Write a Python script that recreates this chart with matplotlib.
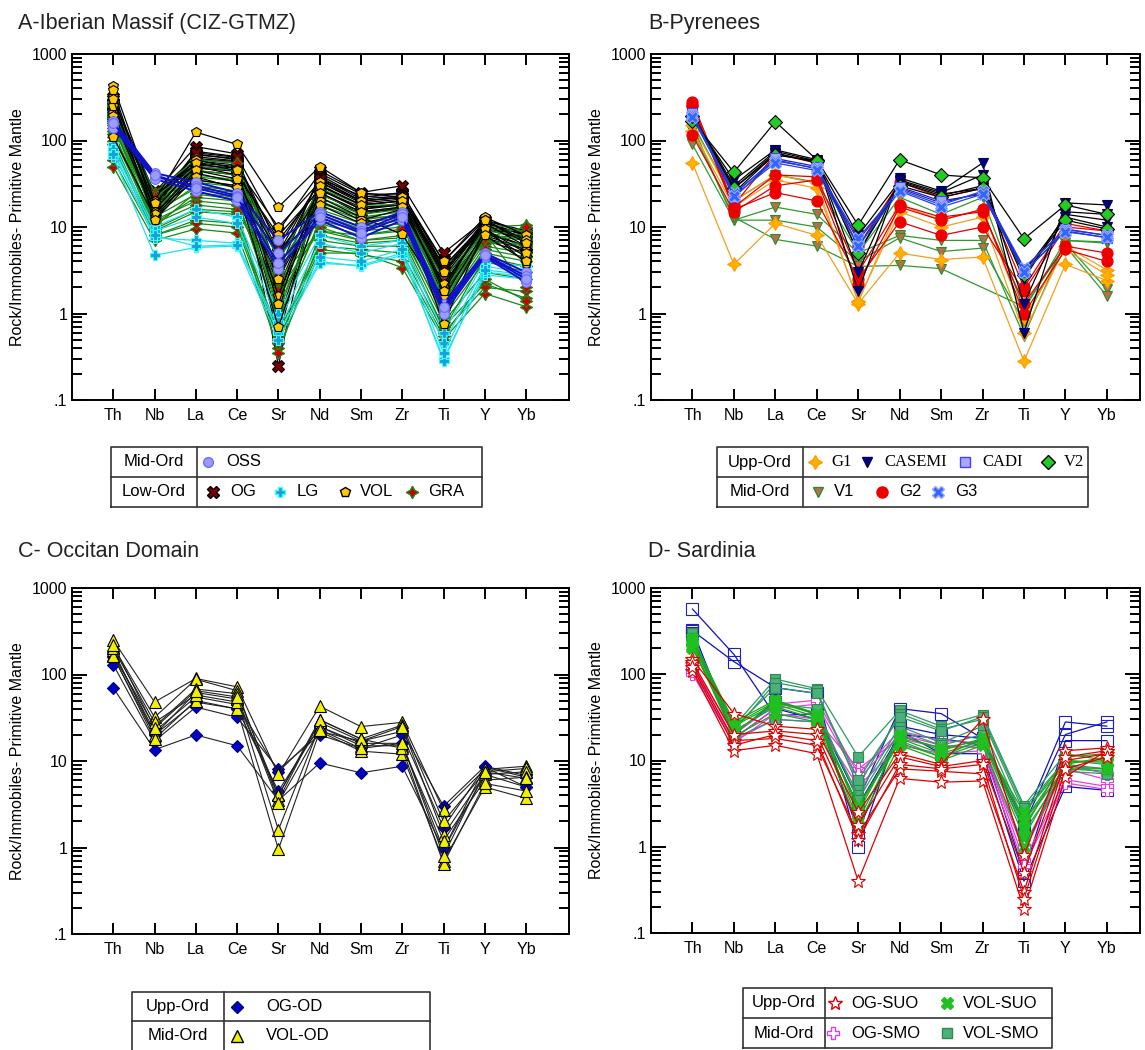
import numpy as np
import matplotlib.pyplot as plt
from matplotlib.ticker import LogLocator, NullFormatter

plt.rcParams.update({
    "font.family": ["Liberation Sans", "DejaVu Sans"],
    "font.size": 11,
    "axes.linewidth": 1.4,
})

ELEMENTS = ["Th", "Nb", "La", "Ce", "Sr", "Nd", "Sm", "Zr", "Ti", "Y", "Yb"]
nan = np.nan

# ── Panel A: Iberian Massif ──────────────────────────────────
A_OG = [
    [300, 25, 85, 70, 0.25, 45, 25, 30, 5.0, 12, 9.0],
    [250, 20, 70, 60, 3.0, 40, 22, 25, 3.5, 11, 8.0],
    [200, 22, 60, 55, 5.0, 35, 20, 22, 3.0, 10, 7.0],
    [280, 18, 75, 65, 9.0, 42, 24, 24, 4.0, 12, 8.5],
    [220, 15, 55, 50, 1.5, 30, 18, 20, 2.5, 9.0, 6.0],
    [180, 17, 50, 45, 7.0, 28, 16, 19, 2.0, 8.0, 5.5],
    [260, 24, 65, 58, 0.5, 38, 21, 23, 3.2, 10.5, 7.5],
    [230, 12, 45, 40, 2.0, 25, 14, 17, 1.8, 7.0, 5.0],
    [240, 21, 68, 62, 4.0, 36, 23, 21, 2.8, 11.5, 8.0],
    [270, 19, 62, 57, 6.0, 33, 19, 21, 3.5, 10, 7.5],
    [210, 23, 58, 52, 2.5, 31, 18, 20, 2.2, 9.5, 7.0],
    [320, 16, 72, 64, 1.2, 36, 20, 22, 2.6, 11, 8.0],
    [190, 26, 52, 48, 4.5, 27, 17, 18, 1.6, 8.5, 6.0],
    [240, 14, 48, 44, 0.8, 24, 15, 16, 2.0, 7.5, 5.5],
]
A_GRA = [
    [50, 7.0, 9.5, 8.5, 0.4, 5.0, 5.0, 3.4, 0.5, 1.7, 1.2],
    [120, 12, 20, 18, 1.5, 10, 7.0, 8.0, 1.0, 5.0, 4.0],
    [200, 18, 35, 30, 3.0, 18, 12, 14, 1.8, 8.0, 7.0],
    [250, 25, 60, 55, 4.0, 28, 18, 18, 2.5, 10, 10.5],
    [150, 10, 25, 22, 0.8, 12, 9.0, 10, 1.2, 6.0, 5.0],
    [100, 9.0, 15, 14, 0.35, 7.0, 6.0, 6.0, 0.7, 2.2, 1.5],
    [180, 14, 30, 26, 2.0, 15, 10, 12, 1.5, 7.0, 6.0],
    [280, 20, 45, 40, 5.0, 22, 14, 16, 2.0, 9.0, 8.0],
    [90, 8.0, 12, 11, 0.6, 6.0, 5.5, 5.0, 0.6, 2.0, 1.8],
    [220, 16, 40, 35, 1.0, 20, 13, 13, 1.3, 8.5, 2.0],
    [160, 11, 22, 20, 2.5, 9.0, 8.0, 9.0, 0.9, 4.0, 3.0],
    [60, 8.0, 11, 10, 0.5, 5.5, 4.8, 4.0, 0.55, 2.5, 1.4],
    [140, 15, 28, 25, 1.2, 14, 9.5, 11, 1.4, 6.5, 6.5],
    [210, 22, 50, 45, 2.8, 24, 15, 17, 2.2, 9.5, 9.0],
    [170, 13, 24, 21, 0.9, 11, 8.0, 9.5, 1.1, 5.5, 4.5],
    [110, 11, 18, 16, 1.8, 9.0, 7.0, 7.5, 0.8, 3.0, 2.5],
    [260, 19, 38, 34, 3.5, 19, 13, 15, 1.9, 8.0, 7.5],
    [130, 9.5, 16, 15, 0.45, 8.0, 6.5, 7.0, 0.65, 4.5, 3.5],
    [190, 17, 33, 29, 4.5, 16, 11, 13, 1.6, 7.5, 10],
]
A_LG = [
    [90, 10, 16, 13, 1.0, 8.0, 6.0, 7.0, 0.6, 4.0, 3.5],
    [75, 7.5, 7.0, 6.5, 0.6, 4.0, 3.5, 4.7, 0.3, 2.8, 2.5],
    [65, 4.7, 5.8, 6.0, 0.5, 3.8, 3.6, 5.0, 0.28, 3.0, 2.7],
    [80, 9.0, 13, 11, 0.8, 6.5, 5.0, 6.5, 0.45, 3.5, 3.0],
    [70, 8.0, 6.0, 6.2, 0.7, 4.5, 4.0, 5.5, 0.35, 3.2, 2.8],
]
A_VOL = [
    [430, 20, 125, 90, 17, 50, 25, 22, 4.0, 13, 8.0],
    [320, 18, 60, 47, 10, 33, 20, 22, 3.0, 12, 7.0],
    [210, 16, 50, 40, 8.0, 27, 16, 18, 2.0, 11, 6.0],
    [110, 13, 42, 33, 5.0, 22, 13, 8.2, 1.5, 9.0, 4.5],
    [380, 15, 35, 30, 2.5, 20, 12, 16, 2.2, 10, 3.8],
    [250, 19, 55, 45, 1.6, 30, 18, 20, 1.8, 12, 6.5],
    [190, 14, 45, 36, 1.3, 25, 15, 17, 0.75, 9.5, 5.0],
    [300, 12, 38, 28, 0.7, 18, 11, 14, 1.2, 8.0, 4.0],
]
A_OSS = [
    [170, 42, 33, 25, 7.0, 15, 10, 15, 1.3, 5.0, 3.0],
    [150, 38, 30, 23, 5.0, 14, 9.0, 14, 1.1, 4.8, 2.7],
    [140, 36, 26, 20, 3.3, 12, 7.5, 12, 1.0, 4.5, 2.3],
    [160, 40, 28, 22, 3.8, 13, 8.5, 13, 1.2, 4.7, 2.5],
]

# ── Panel B: Pyrenees ────────────────────────────────────────
B_G1 = [
    [55, 3.7, 11, 8.0, 1.3, 5.0, 4.2, 4.5, 0.28, 3.7, 2.4],
    [130, 17, 35, 28, 1.4, 15, 10, 13, 0.6, 6.0, 3.2],
    [150, 20, 40, 32, 1.35, 18, 12, 16, 0.9, 5.5, 2.8],
]
B_CASEMI = [
    [180, 35, 78, 60, 1.8, 37, 26, 55, 0.6, 19, 18],
    [200, 30, 75, 58, 3.0, 35, 25, 40, 1.3, 15, 14],
    [190, 28, 72, 55, 5.0, 33, 23, 30, 2.5, 14, 12],
    [210, 25, 70, 57, 8.0, 34, 24, 28, 3.0, 13, 10],
]
B_CADI = [
    [210, 22, 60, 47, 7.0, 28, 19, 25, 3.3, 9.5, 8.0],
    [190, 24, 62, 50, 6.0, 29, 20, 24, 3.0, 9.0, 7.5],
]
B_V2 = [
    [170, 43, 165, 60, 10.5, 60, 40, 37, 7.3, 18, 14],
    [190, 28, 68, 58, 5.0, 30, 22, 28, 2.8, 12, 9.5],
]
B_V1 = [
    [90, 12, 17, 14, 5.0, 8.0, 7.0, 7.0, 0.55, 7.0, 6.5],
    [150, 12, 12, 10, 4.0, 7.5, 5.2, 5.7, 0.8, 6.5, 1.9],
    [130, 13, 7.2, 6.0, 3.5, 3.6, 3.3, nan, 1.2, 6.0, 1.6],
    [160, 20, 40, 33, 5.0, 22, 14, 22, 1.1, 7.0, 6.7],
]
B_G2 = [
    [280, 18, 70, 55, 6.0, 33, 22, 28, 2.0, 11, 9.0],
    [260, 16, 25, 20, 2.5, 11.5, 8.0, 10, 1.8, 10, 9.0],
    [115, 15, 30, 35, 2.2, 17, 12, 16, 1.0, 5.5, 4.0],
    [250, 17, 40, 38, 3.0, 18, 13, 15, 1.3, 6.0, 5.0],
]
B_G3 = [
    [195, 25, 58, 48, 7.5, 27, 18, 26, 3.4, 9.3, 8.0],
    [185, 23, 55, 45, 6.0, 26, 17, 24, 3.0, 8.8, 7.6],
]

# ── Panel C: Occitan Domain ──────────────────────────────────
C_OGOD = [
    [70, 13.5, 20, 15, 3.5, 9.5, 7.3, 8.7, 0.95, 8.5, 5.0],
    [130, 17, 42, 32, 8.0, 20, 14, 20, 1.7, 8.5, 6.5],
    [175, 22, 55, 45, 7.5, 22, 17, 22, 3.0, 8.7, 6.8],
    [160, 20, 48, 40, 4.5, 25, 16, 16, 0.95, 7.0, 5.0],
]
C_VOLOD = [
    [250, 48, 90, 72, 7.0, 43, 25, 28, 2.7, 8.0, 8.7],
    [210, 32, 88, 65, 3.5, 30, 18, 26, 2.0, 7.5, 8.2],
    [170, 25, 68, 60, 4.0, 28, 17, 25, 1.4, 7.0, 7.5],
    [190, 20, 62, 52, 1.6, 25, 15, 15, 1.2, 6.0, 6.5],
    [165, 18, 50, 40, 0.95, 22, 13, 12, 0.7, 5.0, 3.7],
    [200, 28, 58, 48, 4.0, 30, 18, 14, 0.65, 5.5, 4.5],
    [220, 24, 65, 55, 3.3, 23, 14, 16, 0.8, 7.5, 6.3],
]

# ── Panel D: Sardinia ────────────────────────────────────────
D_BLUE = [
    [570, 170, 33, 35, 3.5, 40, 35, 18, 2.0, 28, 25],
    [320, 140, 70, 60, 1.0, 25, 20, 18, 1.8, 20, 28],
    [330, 20, 48, 35, 1.5, 22, 12, 12, 0.4, 5.0, 4.5],
    [300, 18, 40, 30, 3.0, 20, 18, 15, 0.5, 17, 17],
]
D_OGSMO = [
    [100, 16, 35, 30, 8.0, 18, 14, 15, 0.7, 6.0, 5.0],
    [120, 18, 40, 45, 6.0, 20, 15, 14, 0.9, 8.0, 6.0],
    [110, 17, 30, 28, 5.0, 15, 12, 13, 0.6, 5.5, 4.6],
    [130, 20, 45, 50, 7.0, 22, 17, 16, 1.0, 9.0, 7.0],
]
D_VOLSMO = [
    [280, 25, 88, 68, 11, 38, 25, 34, 3.0, 12, 10],
    [250, 22, 80, 65, 5.0, 35, 23, 30, 2.5, 9.0, 8.0],
    [220, 20, 50, 35, 4.0, 25, 16, 25, 2.0, 8.0, 7.5],
    [300, 18, 30, 28, 3.0, 17, 11, 18, 1.5, 7.5, 7.0],
    [260, 24, 70, 60, 6.0, 32, 22, 32, 2.8, 10, 9.0],
    [240, 21, 45, 40, 3.5, 22, 15, 20, 1.8, 8.5, 8.0],
]
D_VOLSUO = [
    [230, 25, 45, 32, 2.0, 18, 12, 17, 1.3, 9.0, 11],
    [200, 22, 42, 30, 3.0, 16, 11, 16, 2.5, 10, 9.5],
    [260, 28, 50, 35, 2.5, 20, 13, 18, 1.6, 11, 12],
    [210, 19, 35, 28, 1.8, 15, 10, 15, 1.0, 8.0, 8.0],
    [240, 26, 48, 34, 2.8, 19, 14, 17, 2.0, 9.5, 10],
]
D_OGSUO = [
    [110, 13, 15, 12, 0.4, 6.2, 5.6, 5.8, 0.19, 6.5, 13],
    [150, 35, 25, 23, 2.5, 12, 9.0, 30, 0.8, 13, 14],
    [130, 17, 18, 15, 1.4, 8.0, 7.5, 7.0, 0.3, 10, 12],
    [140, 20, 22, 20, 1.8, 11, 8.5, 10, 0.5, 11, 13],
    [120, 15, 20, 17, 1.2, 9.0, 8.0, 9.0, 0.25, 8.0, 11],
]

W, H = 1145, 1050
X = np.arange(len(ELEMENTS))

STY = {
    "OSS": dict(color="#1010c8", marker="o", mfc="#9c9cff", mec="#6a6aff", ms=7),
    "OG": dict(color="black", marker="X", mfc="#7a0000", mec="black", ms=8),
    "LG": dict(color="#20e0f0", marker="P", mfc="#1aa0d8", mec="#40ffff", ms=7),
    "VOL": dict(color="black", marker="p", mfc="#ffc800", mec="black", ms=7),
    "GRA": dict(color="#178a17", marker=(4, 1, 0), mfc="#cc0000", mec="#1a8a1a", ms=9),
    "G1": dict(color="#f0a020", marker=(4, 1, 0), mfc="#ffb000", mec="#ff9900", ms=10),
    "CASEMI": dict(color="black", marker="v", mfc="#000080", mec="#000060", ms=7),
    "CADI": dict(color="#2020c0", marker="s", mfc="#a8a8ff", mec="#4040ff", ms=7),
    "V2": dict(color="black", marker="D", mfc="#22cc22", mec="black", ms=7),
    "V1": dict(color="#2e9a2e", marker="v", mfc="#b5704a", mec="#2e8b2e", ms=7),
    "G2": dict(color="#e00000", marker="o", mfc="#ee0000", mec="#ee0000", ms=8),
    "G3": dict(color="#2040e0", marker="X", mfc="#3366ff", mec="#99aaff", ms=9),
    "OG-OD": dict(color="#222222", marker="D", mfc="#0000c0", mec="#000080", ms=6),
    "VOL-OD": dict(color="#222222", marker="^", mfc="#f0f000", mec="black", ms=8),
    "BLUE": dict(color="#1010c0", marker="s", mfc="none", mec="#2020c0", ms=8),
    "OG-SMO": dict(color="#e040e0", marker="P", mfc="white", mec="#e040e0", ms=9),
    "VOL-SMO": dict(color="#2e9a60", marker="s", mfc="#4cb07a", mec="#2e8a50", ms=7),
    "VOL-SUO": dict(color="#18a818", marker="X", mfc="#20c020", mec="#20c020", ms=9),
    "OG-SUO": dict(color="#dd0000", marker="*", mfc="white", mec="#dd0000", ms=10),
}


def draw_group(ax, rows, key, lw=0.9, z=2):
    s = STY[key]
    for r in rows:
        y = np.array(r, float)
        ok = ~np.isnan(y)
        ax.plot(X[ok], y[ok], color=s["color"], lw=lw, marker=s["marker"],
                mfc=s["mfc"], mec=s["mec"], ms=s["ms"], mew=0.8, zorder=z)


def make_axes(px_left, px_top, px_right, px_bottom, xmax):
    ax = fig.add_axes([px_left / W, 1 - px_bottom / H,
                       (px_right - px_left) / W, (px_bottom - px_top) / H])
    ax.set_yscale("log")
    ax.set_ylim(0.1, 1000)
    ax.set_xlim(-1, xmax)
    ax.set_xticks(X)
    ax.set_xticklabels(ELEMENTS, fontsize=11.5)
    ax.set_yticks([0.1, 1, 10, 100, 1000])
    ax.set_yticklabels([".1", "1", "10", "100", "1000"], fontsize=11.5)
    ax.yaxis.set_minor_locator(LogLocator(base=10, subs=np.arange(2, 10)))
    ax.yaxis.set_minor_formatter(NullFormatter())
    ax.tick_params(which="both", direction="in", top=True, right=True, width=1.4)
    ax.tick_params(axis="y", which="major", length=11)
    ax.tick_params(axis="y", which="minor", length=7)
    ax.tick_params(axis="x", which="major", length=8, pad=6)
    ax.set_ylabel("Rock/Immobiles- Primitive Mantle", fontsize=11.5, labelpad=5)
    return ax


def legend_box(px_left, px_top, px_right, px_bottom, px_div, rows, clip_bottom=False):
    lax = fig.add_axes([px_left / W, 1 - px_bottom / H,
                        (px_right - px_left) / W, (px_bottom - px_top) / H])
    lax.set_xlim(0, 1)
    lax.set_ylim(0, 1)
    lax.axis("off")
    d = (px_div - px_left) / (px_right - px_left)
    kw = dict(color="#333333", lw=1.2, clip_on=False)
    bot = -0.2 if clip_bottom else 0
    lax.plot([0, 1, 1, 0, 0], [bot, bot, 1, 1, bot], **kw)
    lax.plot([0, 1], [0.5, 0.5], **kw)
    lax.plot([d, d], [bot, 1], **kw)
    for i, (name, entries) in enumerate(rows):
        yc = 0.75 - 0.5 * i
        lax.text(d / 2, yc, name, ha="center", va="center", fontsize=12)
        for key, label, xm, xt, fam in entries:
            s = STY[key]
            lax.plot([xm], [yc], ls="none", marker=s["marker"], mfc=s["mfc"],
                     mec=s["mec"], ms=s["ms"], mew=1.0, clip_on=False)
            lax.text(xt, yc, label, ha="left", va="center", fontsize=12,
                     family=fam)


fig = plt.figure(figsize=(W / 100, H / 100), dpi=100)

SANS = ["Liberation Sans", "DejaVu Sans"]
SERIF = ["Liberation Serif", "DejaVu Serif"]

# Panel A
ax = make_axes(72, 54, 569, 400, 11.04)
draw_group(ax, A_OG, "OG")
draw_group(ax, A_GRA, "GRA")
draw_group(ax, A_LG, "LG")
draw_group(ax, A_VOL, "VOL", z=3)
draw_group(ax, A_OSS, "OSS", lw=1.4, z=4)
fig.text(18 / W, 1 - 29 / H, "A-Iberian Massif (CIZ-GTMZ)", fontsize=15.5,
         color="#222222")
legend_box(111, 447, 482, 507, 197, [
    ("Mid-Ord", [("OSS", "OSS", 0.261, 0.31, SANS)]),
    ("Low-Ord", [("OG", "OG", 0.275, 0.322, SANS), ("LG", "LG", 0.455, 0.50, SANS),
                 ("VOL", "VOL", 0.631, 0.672, SANS), ("GRA", "GRA", 0.811, 0.855, SANS)]),
])

# Panel B
ax = make_axes(651, 54, 1140, 400, 10.8)
draw_group(ax, B_V1, "V1")
draw_group(ax, B_G1, "G1")
draw_group(ax, B_G2, "G2")
draw_group(ax, B_CASEMI, "CASEMI")
draw_group(ax, B_V2, "V2")
draw_group(ax, B_CADI, "CADI")
draw_group(ax, B_G3, "G3")
fig.text(648 / W, 1 - 29 / H, "B-Pyrenees", fontsize=15.5, color="#222222")
legend_box(717, 447, 1088, 507, 803, [
    ("Upp-Ord", [("G1", "G1", 0.264, 0.308, SERIF), ("CASEMI", "CASEMI", 0.404, 0.45, SERIF),
                 ("CADI", "CADI", 0.668, 0.714, SERIF), ("V2", "V2", 0.892, 0.935, SERIF)]),
    ("Mid-Ord", [("V1", "V1", 0.272, 0.315, SANS), ("G2", "G2", 0.445, 0.49, SANS),
                 ("G3", "G3", 0.596, 0.643, SANS)]),
])

# Panel C
ax = make_axes(72, 588, 569, 934, 11.04)
draw_group(ax, C_OGOD, "OG-OD", lw=0.8)
draw_group(ax, C_VOLOD, "VOL-OD", lw=0.8, z=3)
fig.text(18 / W, 1 - 557 / H, "C- Occitan Domain", fontsize=15.5, color="#222222")
legend_box(132, 992, 430, 1050, 224, [
    ("Upp-Ord", [("OG-OD", "OG-OD", 0.353, 0.45, SANS)]),
    ("Mid-Ord", [("VOL-OD", "VOL-OD", 0.353, 0.45, SANS)]),
], clip_bottom=True)

# Panel D
ax = make_axes(651, 588, 1140, 933, 10.8)
draw_group(ax, D_BLUE, "BLUE")
draw_group(ax, D_OGSMO, "OG-SMO")
draw_group(ax, D_VOLSMO, "VOL-SMO")
draw_group(ax, D_VOLSUO, "VOL-SUO")
draw_group(ax, D_OGSUO, "OG-SUO", z=3)
fig.text(648 / W, 1 - 557 / H, "D- Sardinia", fontsize=15.5, color="#222222")
legend_box(743, 988, 1052, 1048, 825, [
    ("Upp-Ord", [("OG-SUO", "OG-SUO", 0.298, 0.35, SANS), ("VOL-SUO", "VOL-SUO", 0.66, 0.712, SANS)]),
    ("Mid-Ord", [("OG-SMO", "OG-SMO", 0.291, 0.35, SANS), ("VOL-SMO", "VOL-SMO", 0.66, 0.712, SANS)]),
])

fig.savefig("out.png", dpi=100)
